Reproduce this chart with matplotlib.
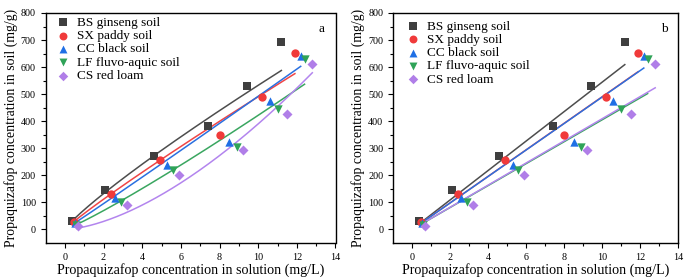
import numpy as np
import matplotlib
matplotlib.use("Agg")
import matplotlib.pyplot as plt

plt.rcParams['font.family'] = ['Liberation Serif', 'DejaVu Serif']
plt.rcParams['mathtext.fontset'] = 'stix'

# --- datos ---
soils = ["BS ginseng soil", "SX paddy soil", "CC black soil", "LF fluvo-aquic soil", "CS red loam"]

bs_x = [0.35, 2.1, 4.6, 7.4, 9.4, 11.2]
bs_y = [32, 145, 270, 382, 530, 692]
sx_x = [0.45, 2.4, 4.9, 8.0, 10.2, 11.9]
sx_y = [28, 130, 255, 350, 490, 653]
cc_x = [0.5, 2.6, 5.3, 8.5, 10.6, 12.2]
cc_y = [25, 118, 238, 325, 473, 640]
lf_x = [0.6, 2.9, 5.6, 8.9, 11.0, 12.4]
lf_y = [18, 102, 220, 303, 447, 630]
cs_x = [0.7, 3.2, 5.9, 9.2, 11.5, 12.8]
cs_y = [12, 90, 203, 292, 425, 612]

# ajuste Freundlich (panel a): q = K * C^N
freundlich_K = [72.7, 59.0, 47.0, 32.0, 9.8]
freundlich_N = [0.865, 0.92, 1.02, 1.12, 1.6]

# ajuste lineal (panel b): q = Kd * C
linear_Kd = [54.4, 49.0, 48.9, 40.5, 40.9]

xs_all = [bs_x, sx_x, cc_x, lf_x, cs_x]
ys_all = [bs_y, sx_y, cc_y, lf_y, cs_y]

colors = ["#3f3f3f", "#f03a3a", "#1f6fe5", "#2fa358", "#b07ee8"]
line_colors = ["#4d4d4d", "#f04545", "#2a70e0", "#3aa660", "#b385ee"]
markers = ["s", "o", "^", "v", "D"]
msizes = [30, 36, 36, 36, 26]


def draw_panel(ax, letter, mode, leg_anchor):
    for i in range(5):
        c = np.linspace(xs_all[i][0], xs_all[i][-1], 200)
        if mode == "a":
            q = freundlich_K[i] * c ** freundlich_N[i]
        else:
            q = linear_Kd[i] * c
        ax.plot(c, q, color=line_colors[i], lw=1.1, zorder=2)

    for i in range(5):
        ax.scatter(xs_all[i], ys_all[i], marker=markers[i], s=msizes[i],
                   color=colors[i], label=soils[i], zorder=3, linewidths=0)

    ax.set_xlim(-1, 14)
    ax.set_ylim(-50, 800)
    ax.set_xticks(range(0, 15, 2))
    ax.set_yticks(range(0, 801, 100))
    ax.set_xticks(range(1, 14, 2), minor=True)
    ax.set_yticks(range(50, 800, 100), minor=True)
    ax.tick_params(which="both", direction="out", top=False, right=False,
                   labelsize=7.3, width=0.8)
    ax.tick_params(which="major", length=3.5)
    ax.tick_params(which="minor", length=2)
    for sp in ax.spines.values():
        sp.set_linewidth(1.0)

    ax.set_xlabel("Propaquizafop concentration in solution (mg/L)", fontsize=10.1, labelpad=1)
    ax.set_ylabel("Propaquizafop concentration in soil (mg/g)", fontsize=9.9, labelpad=2)
    ax.text(13.3, 740, letter, fontsize=9.5, ha="center", va="center")

    ax.legend(loc="upper left", bbox_to_anchor=leg_anchor, frameon=False, fontsize=9.5,
              handletextpad=0.45, labelspacing=0.08, borderaxespad=0, borderpad=0,
              handlelength=1.2, markerscale=0.95)


fig = plt.figure(figsize=(6.85, 2.77), dpi=100)
ax1 = fig.add_axes([45.5 / 685, 1 - 243 / 277, 290 / 685, 230 / 277])
ax2 = fig.add_axes([393 / 685, 1 - 243 / 277, 285 / 685, 230 / 277])

draw_panel(ax1, "a", "a", (0.033, 0.984))
draw_panel(ax2, "b", "b", (0.042, 0.968))

fig.savefig("out.png", dpi=100)
plt.close(fig)
